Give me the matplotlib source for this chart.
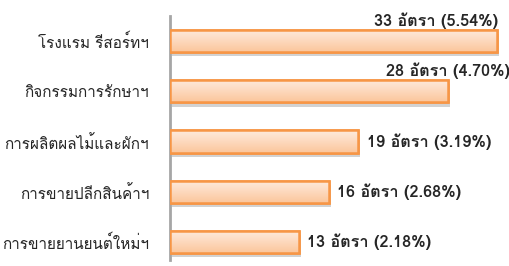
import matplotlib
matplotlib.use("Agg")
import matplotlib.pyplot as plt
import matplotlib.patheffects as pe
import numpy as np
from matplotlib.colors import LinearSegmentedColormap

# --- data ---
categories = ["โรงแรม รีสอร์ทฯ", "กิจกรรมการรักษาฯ", "การผลิตผลไม้และผักฯ",
              "การขายปลีกสินค้าฯ", "การขายยานยนต์ใหม่ฯ"]
counts = [33, 28, 19, 16, 13]
percents = [5.54, 4.70, 3.19, 2.68, 2.18]

thai = ["Loma", "Noto Sans Thai Looped", "DejaVu Sans"]
plt.rcParams["font.family"] = thai

fig = plt.figure(figsize=(5.09, 2.66), dpi=100)
W, H = 509, 266
ax = fig.add_axes([170 / W, 6 / H, (W - 170) / W, 244 / H])

ypos = np.arange(len(categories))
bars = ax.barh(ypos, counts, height=0.44, color="#FCD3B4", edgecolor="#F79646",
               linewidth=1.8, zorder=3)
for b in bars:
    b.set_path_effects([pe.SimplePatchShadow(offset=(1.5, -3), shadow_rgbFace="#7f7f7f",
                                             alpha=0.35), pe.Normal()])

ax.set_xlim(0, 34.2)
ax.set_ylim(4.36, -0.50)

# gradient fill inside each bar
grad = LinearSegmentedColormap.from_list("g", ["#FEEBDD", "#FDD9BE", "#FBC69C"])
for b in bars:
    x0, y0 = b.get_x(), b.get_y()
    w, h = b.get_width(), b.get_height()
    im = ax.imshow(np.linspace(0, 1, 50).reshape(-1, 1), cmap=grad, aspect="auto",
                   extent=(x0, x0 + w, y0, y0 + h), origin="lower", zorder=3.5)
    im.set_clip_path(b)
# redraw edges on top
ax.barh(ypos, counts, height=0.44, color="none", edgecolor="#F79646", linewidth=1.8, zorder=4)

ax.set_xlim(0, 34.2)
ax.set_ylim(4.36, -0.50)

ax.set_yticks(ypos)
ax.set_yticklabels(categories, fontsize=11, color="#262626")
ax.tick_params(axis="y", length=0, pad=15)
ax.set_xticks([])
for s in ["top", "right", "bottom"]:
    ax.spines[s].set_visible(False)
ax.spines["left"].set_color("#A6A6A6")
ax.spines["left"].set_linewidth(2)

labels = [f"{c} อัตรา ({p:.2f}%)" for c, p in zip(counts, percents)]
lab_kw = dict(va="center", fontsize=11.7, fontweight="bold", color="#262626",
              textcoords="offset points")
for i, (c, lab) in enumerate(zip(counts, labels)):
    if i == 0:
        ax.annotate(lab, (c, i - 0.22), xytext=(1, 7), ha="right", **lab_kw)
    elif i == 1:
        ax.annotate(lab, (c, i - 0.22), xytext=(0, 7), ha="center", **lab_kw)
    else:
        ax.annotate(lab, (c, i), xytext=(6, 0), ha="left", **lab_kw)

fig.savefig("out.png", dpi=100)
